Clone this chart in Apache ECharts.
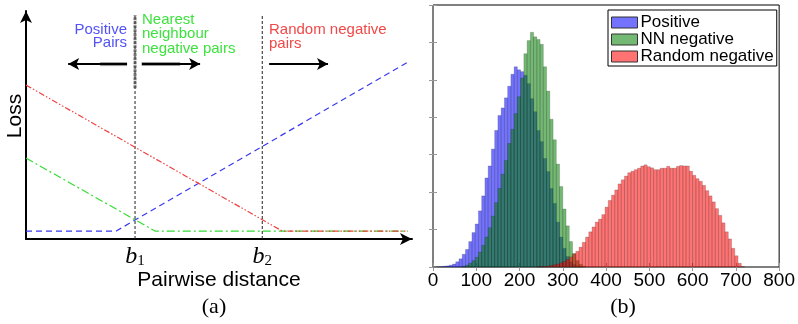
<!DOCTYPE html>
<html>
<head>
<meta charset="utf-8">
<script src="https://cdn.jsdelivr.net/npm/echarts@6/dist/echarts.min.js"></script>
<style>
html, body { margin: 0; padding: 0; background: #fff; }
#chart { width: 798px; height: 324px; }
</style>
</head>
<body>
<div id="chart"></div>
<script>
// panel (a): schematic loss vs pairwise distance (arbitrary units)
const bPositions = [3, 6.5];
const bSubscripts = ['1', '2'];
const positiveLoss = [[0, 0.34], [2.48, 0.34], [10.5, 7.56]];
const nnLoss = [[0, 3.46], [3.55, 0.34], [10.5, 0.34]];
const randomLoss = [[0, 6.58], [7.05, 0.34], [10.5, 0.34]];
const boundTop = 9.57;
const arrowY = 7.48;
const arrowSpans = [[2.78, 1.16], [3.19, 4.79], [6.69, 8.31]];
const arrowShadows = [[2.04, 2.78], [3.18, 4.24]];

// panel (b): histograms of pairwise distances, one value per bin
const binWidth = 7.5;
const positiveFirstBin = 0;
const positiveCounts = [
  0, 0.005, 0.01, 0.02, 0.03, 0.05, 0.08, 0.14, 0.22, 0.34,
  0.47, 0.68, 0.92, 1.15, 1.5, 1.9, 2.38, 2.7, 3.15, 3.65,
  4.05, 4.25, 4.52, 4.83, 5.15, 5.35, 5.27, 5.22, 5.12, 4.9,
  4.5, 4.15, 3.65, 3.35, 2.9, 2.55, 2.1, 1.7, 1.2, 0.8,
  0.5, 0.28, 0.14, 0.07, 0.03, 0.01
];
const nnFirstBin = 9;
const nnCounts = [
  0.02, 0.05, 0.1, 0.17, 0.26, 0.4, 0.58, 0.8, 1.05, 1.36,
  1.72, 2.1, 2.48, 2.85, 3.3, 3.68, 4.1, 4.55, 5.05, 5.7,
  6.05, 6.27, 6.15, 6.08, 5.95, 5.35, 4.7, 3.95, 3.4, 2.75,
  2.15, 1.55, 1.1, 0.68, 0.36, 0.17, 0.07, 0.02
];
const randomFirstBin = 32;
const randomCounts = [
  0.01, 0.01, 0.02, 0.02, 0.04, 0.06, 0.08, 0.11, 0.15, 0.2,
  0.27, 0.35, 0.42, 0.53, 0.66, 0.8, 0.94, 1.07, 1.2, 1.28,
  1.4, 1.6, 1.78, 1.92, 2.06, 2.22, 2.33, 2.43, 2.52, 2.56,
  2.6, 2.64, 2.7, 2.73, 2.68, 2.65, 2.6, 2.6, 2.64, 2.64,
  2.69, 2.64, 2.64, 2.69, 2.71, 2.7, 2.7, 2.56, 2.45, 2.36,
  2.29, 2.18, 2.04, 1.9, 1.74, 1.56, 1.38, 1.18, 0.94, 0.75,
  0.5, 0.3, 0.1, 0.01
];
const histXMin = 0;
const histXMax = 800;
const histXStep = 100;

const SANS = '"Liberation Sans", Arial, sans-serif';
const SERIF = '"Liberation Serif", "DejaVu Serif", serif';

const toBins = (first, counts) =>
  counts.map((c, i) => [(first + i) * binWidth, (first + i + 1) * binWidth, c]);

const renderBar = (params, api) => {
  const top = api.coord([api.value(0), api.value(2)]);
  const bottom = api.coord([api.value(1), 0]);
  return {
    type: 'rect',
    shape: { x: top[0], y: top[1], width: bottom[0] - top[0], height: bottom[1] - top[1] },
    style: { fill: api.visual('color'), stroke: 'rgba(0,0,0,0.28)', lineWidth: 0.6 }
  };
};

const histSeries = (name, color, first, counts) => ({
  name: name,
  type: 'custom',
  xAxisIndex: 1,
  yAxisIndex: 1,
  renderItem: renderBar,
  itemStyle: { color: color },
  encode: { x: [0, 1], y: 2 },
  data: toBins(first, counts)
});

const lossLine = (data, color, dash) => ({
  type: 'line',
  xAxisIndex: 0,
  yAxisIndex: 0,
  symbol: 'none',
  data: data,
  lineStyle: { color: color, width: 1.2, type: dash },
  z: 3
});

const segment = (data, color, width, dash) => ({
  type: 'line',
  xAxisIndex: 0,
  yAxisIndex: 0,
  symbol: 'none',
  silent: true,
  data: data,
  lineStyle: { color: color, width: width, type: dash },
  z: 2
});

const chart = echarts.init(document.getElementById('chart'));

const option = {
  animation: false,
  textStyle: { fontFamily: SANS },
  grid: [
    { left: 26, top: 11, right: 386, bottom: 85 },
    { left: 433, top: 5, right: 16, bottom: 57, show: true, borderColor: '#000', borderWidth: 1 }
  ],
  xAxis: [
    {
      gridIndex: 0, type: 'value', min: 0, max: 10.62,
      name: 'Pairwise distance', nameLocation: 'middle', nameGap: 31, nameMoveOverlap: false,
      nameTextStyle: { fontSize: 21, color: '#000', fontFamily: SANS },
      axisLine: { show: true, symbol: ['none', 'arrow'], symbolSize: [9, 12], lineStyle: { color: '#000', width: 2 } },
      axisTick: { show: false },
      splitLine: { show: false },
      axisLabel: {
        customValues: bPositions,
        margin: 5,
        formatter: (v) => '{b|b}{s|' + bSubscripts[bPositions.indexOf(v)] + '}',
        rich: {
          b: { fontFamily: SERIF, fontStyle: 'italic', fontSize: 24, color: '#000' },
          s: { fontFamily: SERIF, fontSize: 15, color: '#000', padding: [10, 0, 0, 0] }
        }
      }
    },
    {
      gridIndex: 1, type: 'value', min: histXMin, max: histXMax, interval: histXStep,
      axisLine: { show: false },
      axisTick: { show: true, inside: true, length: 4, lineStyle: { color: '#999' } },
      splitLine: { show: false },
      axisLabel: { fontSize: 19, color: '#000', margin: 4, fontFamily: SANS }
    },
    {
      gridIndex: 1, type: 'value', position: 'top', min: histXMin, max: histXMax, interval: histXStep,
      axisLine: { show: false },
      axisTick: { show: true, inside: true, length: 4, lineStyle: { color: '#999' } },
      splitLine: { show: false },
      axisLabel: { show: false }
    }
  ],
  yAxis: [
    {
      gridIndex: 0, type: 'value', min: 0, max: 9.75,
      axisLine: { show: true, symbol: ['none', 'arrow'], symbolSize: [9, 12], lineStyle: { color: '#000', width: 2 } },
      axisTick: { show: false },
      axisLabel: { show: false },
      splitLine: { show: false }
    },
    {
      gridIndex: 1, type: 'value', min: 0, max: 7, interval: 1,
      axisLine: { show: false },
      axisTick: { show: true, inside: true, length: 4, lineStyle: { color: '#999' } },
      axisLabel: { show: false },
      splitLine: { show: false }
    },
    {
      gridIndex: 1, type: 'value', position: 'right', min: 0, max: 7, interval: 1,
      axisLine: { show: false },
      axisTick: { show: true, inside: true, length: 4, lineStyle: { color: '#999' } },
      axisLabel: { show: false },
      splitLine: { show: false }
    }
  ],
  legend: {
    orient: 'vertical',
    left: 608,
    top: 10,
    padding: [4, 3, 1, 3],
    itemGap: 0,
    itemWidth: 26,
    itemHeight: 11,
    icon: 'rect',
    backgroundColor: '#fff',
    borderColor: '#000',
    borderWidth: 1,
    itemStyle: { borderColor: '#333', borderWidth: 1 },
    textStyle: { fontSize: 17, color: '#000', fontFamily: SANS, padding: [0, 0, 0, -2] },
    data: ['Positive', 'NN negative', 'Random negative']
  },
  graphic: [
    { type: 'text', x: 15, y: 116, rotation: Math.PI / 2,
      style: { text: 'Loss', fill: '#000', font: '21px ' + SANS, align: 'center', verticalAlign: 'middle' } },
    { type: 'text', x: 127, y: 23,
      style: { text: 'Positive\nPairs', fill: '#5252f5', font: '15px ' + SANS, align: 'right', verticalAlign: 'top', lineHeight: 13.5 } },
    { type: 'text', x: 142, y: 12.5,
      style: { text: 'Nearest\nneighbour\nnegative pairs', fill: '#3ee23e', font: '15px ' + SANS, align: 'left', verticalAlign: 'top', lineHeight: 14.5 } },
    { type: 'text', x: 269, y: 23,
      style: { text: 'Random negative\npairs', fill: '#f04848', font: '15px ' + SANS, align: 'left', verticalAlign: 'top', lineHeight: 14 } },
    { type: 'text', x: 214, y: 307,
      style: { text: '(a)', fill: '#000', font: '22px ' + SERIF, align: 'center', verticalAlign: 'middle' } },
    { type: 'text', x: 623, y: 307,
      style: { text: '(b)', fill: '#000', font: '22px ' + SERIF, align: 'center', verticalAlign: 'middle' } }
  ],
  series: [
    segment([[bPositions[0], 0], [bPositions[0], boundTop]], '#222', 1, [3, 2]),
    segment([[bPositions[1], 0], [bPositions[1], boundTop]], '#222', 1, [3, 2]),
    segment([[bPositions[0], 6.45], [bPositions[0], boundTop]], 'rgba(70,70,70,0.75)', 3, [3, 1]),
    segment([[arrowShadows[0][0], arrowY], [arrowShadows[0][1], arrowY]], 'rgba(90,90,90,0.6)', 4, 'solid'),
    segment([[arrowShadows[1][0], arrowY], [arrowShadows[1][1], arrowY]], 'rgba(90,90,90,0.6)', 4, 'solid'),
    {
      type: 'line',
      xAxisIndex: 0,
      yAxisIndex: 0,
      data: [],
      markLine: {
        silent: true,
        symbol: ['none', 'arrow'],
        symbolSize: [9, 11],
        label: { show: false },
        lineStyle: { color: '#000', width: 2, type: 'solid' },
        data: arrowSpans.map(([from, to]) => [{ coord: [from, arrowY] }, { coord: [to, arrowY] }])
      }
    },
    lossLine(positiveLoss, '#3a3af2', [6, 4]),
    lossLine(nnLoss, '#33dd33', [8, 3, 2, 3]),
    lossLine(randomLoss, '#f04040', [6, 2, 1.5, 2, 1.5, 2]),
    histSeries('Positive', 'rgba(0,0,255,0.55)', positiveFirstBin, positiveCounts),
    histSeries('NN negative', 'rgba(0,128,0,0.55)', nnFirstBin, nnCounts),
    histSeries('Random negative', 'rgba(255,0,0,0.55)', randomFirstBin, randomCounts)
  ]
};

chart.setOption(option);
</script>
</body>
</html>
